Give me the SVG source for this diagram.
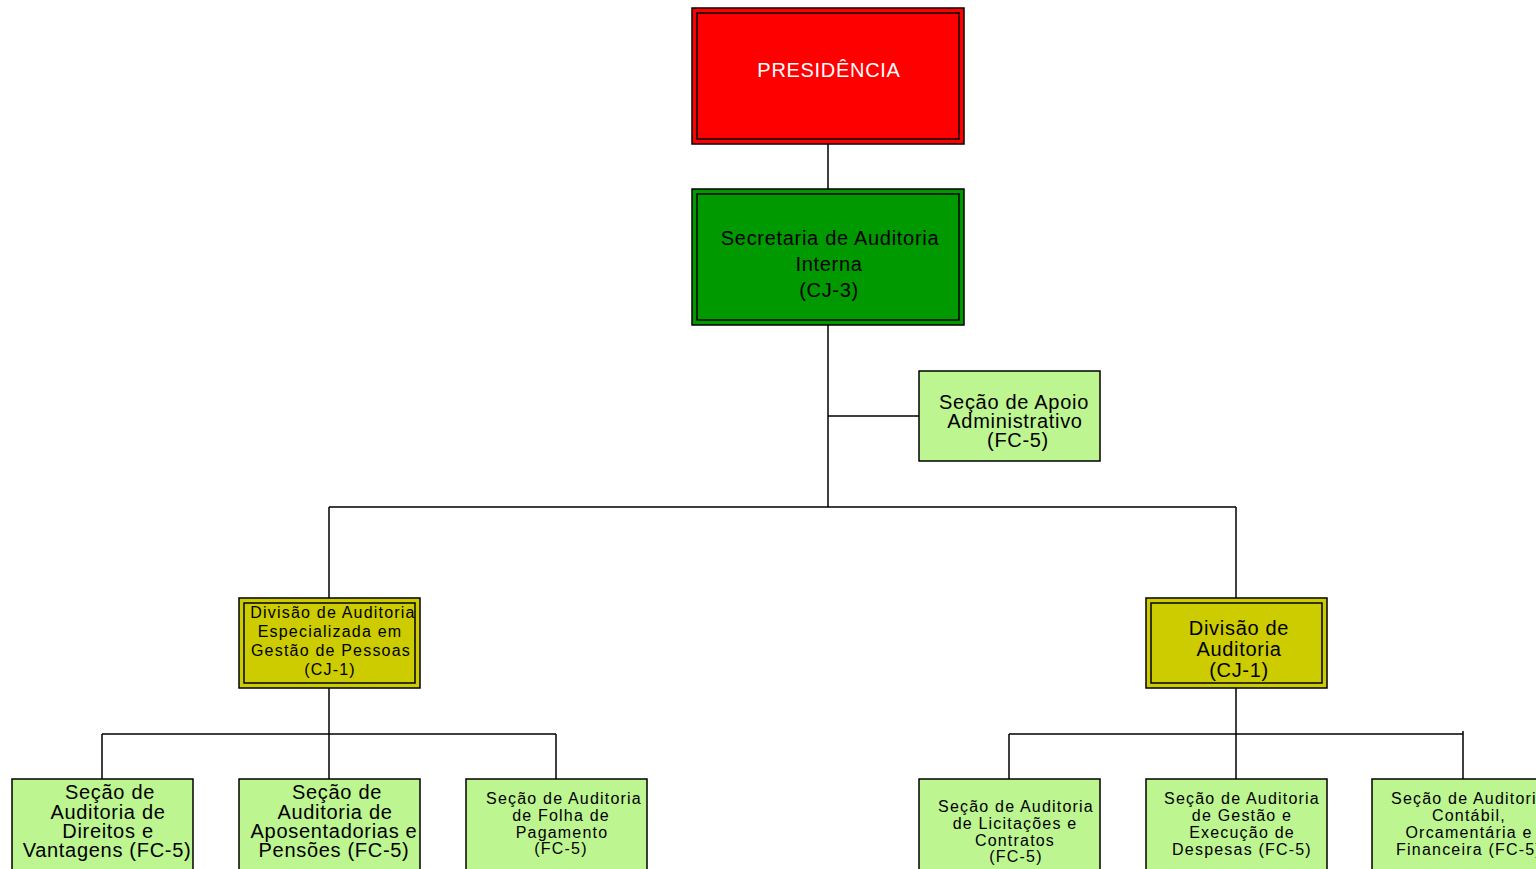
<svg xmlns="http://www.w3.org/2000/svg" width="1536" height="869" viewBox="0 0 1536 869">
<style>
text{font-family:"Liberation Sans",Arial,sans-serif;text-anchor:middle;fill:#000}
.t20{font-size:20px;letter-spacing:0.7px}
.t16{font-size:16px;letter-spacing:1.2px}
.box{stroke:#000;stroke-width:1.5}
.in{fill:none;stroke:#000;stroke-width:1.5}
.sec{fill:#BDF591;stroke:#000;stroke-width:1.5}
.div{fill:#CCCC00}
.con{fill:none;stroke:#000;stroke-width:1.5}
</style>
<rect width="1536" height="869" fill="#fff"/>
<g id="connectors">
<path class="con" d="M828 144V189M828 325V507M828 416H919M329 507H1236M329 507V598M1236 507V598"/>
<path class="con" d="M329 688V734M102 734H556M102 734V779M329 734V779M556 734V779"/>
<path class="con" d="M1236 688V734M1009 734H1463M1009 734V779M1236 734V779M1463 731V779"/>
</g>
<g id="presidencia">
<rect class="box" x="692" y="8" width="272" height="136" fill="#FF0000"/>
<rect class="in" x="697" y="13" width="262" height="126"/>
<text class="t20" x="829" y="77" style="fill:#fff">PRESIDÊNCIA</text>
</g>
<g id="secretaria">
<rect class="box" x="692" y="189" width="272" height="136" fill="#009900"/>
<rect class="in" x="697" y="194" width="262" height="126"/>
<text class="t20" x="830" y="245">Secretaria de Auditoria</text>
<text class="t20" x="829" y="271">Interna</text>
<text class="t20" x="829" y="297">(CJ-3)</text>
</g>
<g id="apoio">
<rect class="sec" x="919" y="371" width="181" height="90"/>
<text class="t20" x="1014" y="409">Seção de Apoio</text>
<text class="t20" x="1015" y="428">Administrativo</text>
<text class="t20" x="1018" y="447">(FC-5)</text>
</g>
<g id="div-pessoas">
<rect class="box div" x="239" y="598" width="181" height="90"/>
<rect class="in" x="244" y="603" width="171" height="80"/>
<text class="t16" x="333" y="618">Divisão de Auditoria</text>
<text class="t16" x="330" y="637">Especializada em</text>
<text class="t16" x="331" y="656">Gestão de Pessoas</text>
<text class="t16" x="330" y="675">(CJ-1)</text>
</g>
<g id="div-auditoria">
<rect class="box div" x="1146" y="598" width="181" height="90"/>
<rect class="in" x="1151" y="603" width="171" height="80"/>
<text class="t20" x="1239" y="635">Divisão de</text>
<text class="t20" x="1239" y="656">Auditoria</text>
<text class="t20" x="1239" y="677">(CJ-1)</text>
</g>
<g id="direitos">
<rect class="sec" x="12" y="779" width="181" height="95"/>
<text class="t20" x="110" y="799">Seção de</text>
<text class="t20" x="108" y="819">Auditoria de</text>
<text class="t20" x="108" y="838">Direitos e</text>
<text class="t20" x="107" y="857">Vantagens (FC-5)</text>
</g>
<g id="aposentadorias">
<rect class="sec" x="239" y="779" width="181" height="95"/>
<text class="t20" x="337" y="799">Seção de</text>
<text class="t20" x="335" y="819">Auditoria de</text>
<text class="t20" x="334" y="838">Aposentadorias e</text>
<text class="t20" x="334" y="857">Pensões (FC-5)</text>
</g>
<g id="folha">
<rect class="sec" x="466" y="779" width="181" height="95"/>
<text class="t16" x="564" y="804">Seção de Auditoria</text>
<text class="t16" x="561" y="821">de Folha de</text>
<text class="t16" x="562" y="838">Pagamento</text>
<text class="t16" x="561" y="854">(FC-5)</text>
</g>
<g id="licitacoes">
<rect class="sec" x="919" y="779" width="181" height="95"/>
<text class="t16" x="1016" y="812">Seção de Auditoria</text>
<text class="t16" x="1015" y="829">de Licitações e</text>
<text class="t16" x="1015" y="846">Contratos</text>
<text class="t16" x="1016" y="862">(FC-5)</text>
</g>
<g id="despesas">
<rect class="sec" x="1146" y="779" width="181" height="95"/>
<text class="t16" x="1242" y="804">Seção de Auditoria</text>
<text class="t16" x="1242" y="821">de Gestão e</text>
<text class="t16" x="1242" y="838">Execução de</text>
<text class="t16" x="1242" y="855">Despesas (FC-5)</text>
</g>
<g id="contabil">
<rect class="sec" x="1372" y="779" width="181" height="95"/>
<text class="t16" x="1469" y="804">Seção de Auditoria</text>
<text class="t16" x="1469" y="821">Contábil,</text>
<text class="t16" x="1469" y="838">Orcamentária e</text>
<text class="t16" x="1469" y="855">Financeira (FC-5)</text>
</g>
</svg>
